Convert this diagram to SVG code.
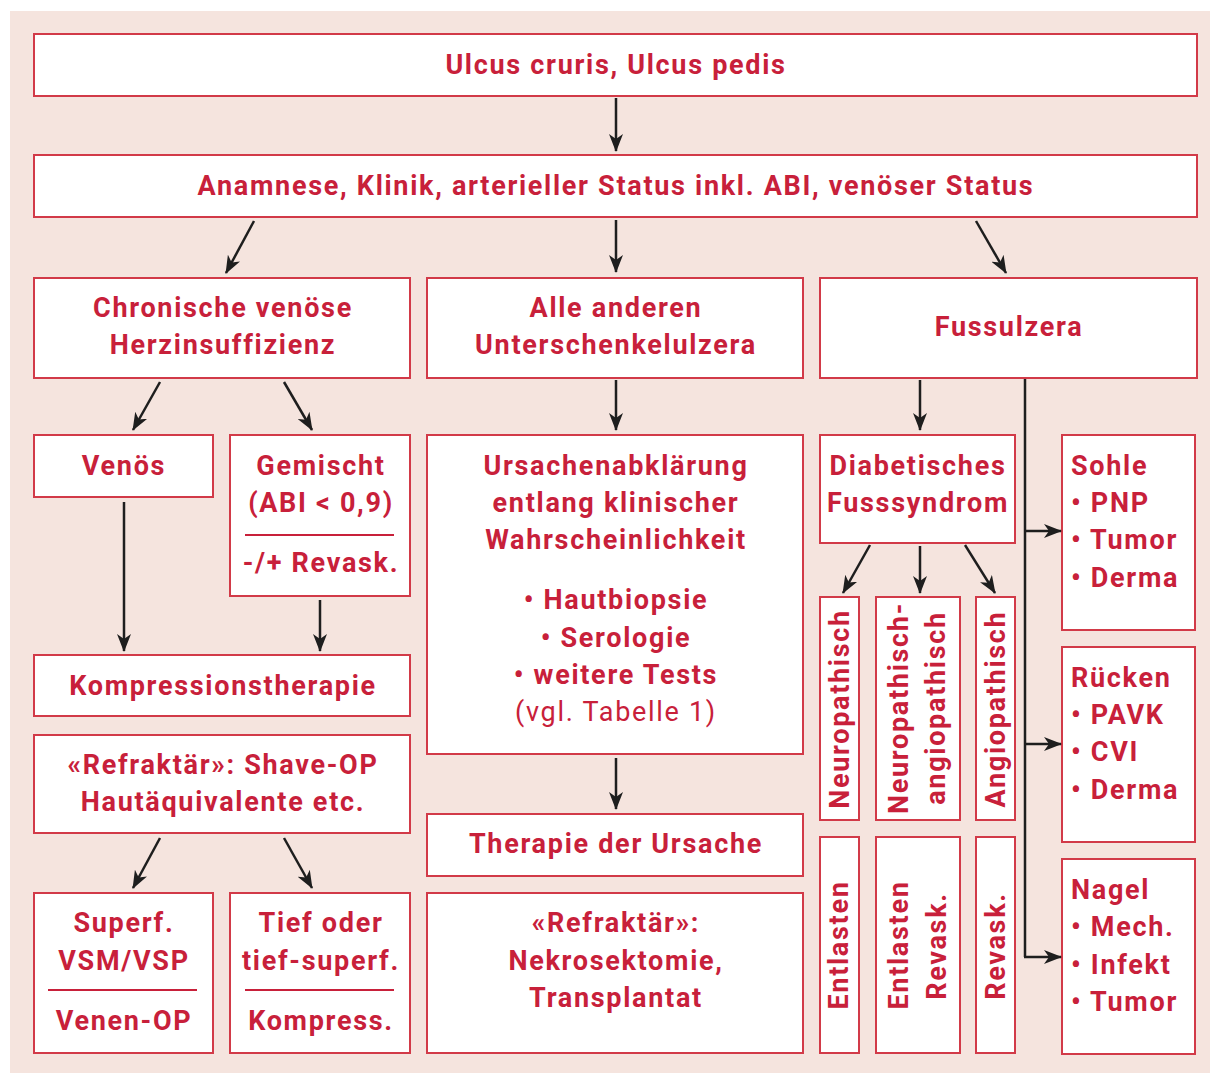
<svg xmlns="http://www.w3.org/2000/svg" width="1210" height="1073" viewBox="0 0 1210 1073">
<defs>
<marker id="ah" markerWidth="18" markerHeight="14" refX="17" refY="7" orient="auto" markerUnits="userSpaceOnUse">
<path d="M0,0 L18,7 L0,14 L5,7 z" fill="#1e1e1e"/>
</marker>
</defs>
<style>
.box{fill:#fff;stroke:#d23a48;stroke-width:2}
.t{font-family:Roboto,"Noto Sans",sans-serif;font-weight:700;font-size:27px;fill:#c8203a;text-anchor:middle;letter-spacing:1.7px}
.l{text-anchor:start}
.r{font-weight:400}
.sep{stroke:#c8203a;stroke-width:2}
.c{stroke:#1e1e1e;stroke-width:2.5;fill:none;marker-end:url(#ah)}
.c0{stroke:#1e1e1e;stroke-width:2.5;fill:none}
</style>
<rect x="10" y="11" width="1200" height="1062" fill="#f5e4de"/>

<g id="n-ulcus"><rect class="box" x="34" y="34" width="1163" height="62"/><text class="t" x="616" y="74">Ulcus cruris, Ulcus pedis</text></g>
<g id="n-anamnese"><rect class="box" x="34" y="155" width="1163" height="62"/><text class="t" x="616" y="195">Anamnese, Klinik, arterieller Status inkl. ABI, venöser Status</text></g>

<g id="n-cvi"><rect class="box" x="34" y="278" width="376" height="100"/><text class="t" x="223" y="317">Chronische venöse</text><text class="t" x="223" y="354">Herzinsuffizienz</text></g>
<g id="n-andere"><rect class="box" x="427" y="278" width="376" height="100"/><text class="t" x="616" y="317">Alle anderen</text><text class="t" x="616" y="354">Unterschenkelulzera</text></g>
<g id="n-fuss"><rect class="box" x="820" y="278" width="377" height="100"/><text class="t" x="1009" y="336">Fussulzera</text></g>

<g id="n-venoes"><rect class="box" x="34" y="435" width="179" height="62"/><text class="t" x="124" y="475">Venös</text></g>
<g id="n-gemischt"><rect class="box" x="230" y="435" width="180" height="161"/><text class="t" x="321" y="475">Gemischt</text><text class="t" x="321" y="512">(ABI &lt; 0,9)</text><line class="sep" x1="245" y1="535" x2="394" y2="535"/><text class="t" x="321" y="572">-/+ Revask.</text></g>
<g id="n-kompression"><rect class="box" x="34" y="655" width="376" height="61"/><text class="t" x="223" y="695">Kompressionstherapie</text></g>
<g id="n-refr1"><rect class="box" x="34" y="735" width="376" height="98"/><text class="t" x="223" y="774">«Refraktär»: Shave-OP</text><text class="t" x="223" y="811">Hautäquivalente etc.</text></g>
<g id="n-superf"><rect class="box" x="34" y="893" width="179" height="160"/><text class="t" x="124" y="932">Superf.</text><text class="t" x="124" y="970">VSM/VSP</text><line class="sep" x1="48" y1="990" x2="197" y2="990"/><text class="t" x="124" y="1030">Venen-OP</text></g>
<g id="n-tief"><rect class="box" x="230" y="893" width="180" height="160"/><text class="t" x="321" y="932">Tief oder</text><text class="t" x="321" y="970">tief-superf.</text><line class="sep" x1="245" y1="990" x2="394" y2="990"/><text class="t" x="321" y="1030">Kompress.</text></g>

<g id="n-ursachen"><rect class="box" x="427" y="435" width="376" height="319"/>
<text class="t" x="616" y="475">Ursachenabklärung</text><text class="t" x="616" y="512">entlang klinischer</text><text class="t" x="616" y="549">Wahrscheinlichkeit</text>
<text class="t" x="616" y="609">• Hautbiopsie</text><text class="t" x="616" y="647">• Serologie</text><text class="t" x="616" y="684">• weitere Tests</text><text class="t r" x="616" y="721">(vgl. Tabelle 1)</text></g>
<g id="n-therapie"><rect class="box" x="427" y="814" width="376" height="62"/><text class="t" x="616" y="853">Therapie der Ursache</text></g>
<g id="n-refr2"><rect class="box" x="427" y="893" width="376" height="160"/><text class="t" x="616" y="932">«Refraktär»:</text><text class="t" x="616" y="970">Nekrosektomie,</text><text class="t" x="616" y="1007">Transplantat</text></g>

<g id="n-dfs"><rect class="box" x="820" y="435" width="195" height="108"/><text class="t" x="918" y="475">Diabetisches</text><text class="t" x="918" y="512">Fusssyndrom</text></g>
<g id="n-neuro"><rect class="box" x="820" y="597" width="39" height="223"/><text class="t" transform="translate(849,709) rotate(-90)">Neuropathisch</text></g>
<g id="n-neuroangio"><rect class="box" x="876" y="597" width="84" height="223"/><text class="t" transform="translate(908,708) rotate(-90)">Neuropathisch-</text><text class="t" transform="translate(945,708) rotate(-90)">angiopathisch</text></g>
<g id="n-angio"><rect class="box" x="976" y="597" width="39" height="223"/><text class="t" transform="translate(1005,709) rotate(-90)">Angiopathisch</text></g>
<g id="n-entl1"><rect class="box" x="820" y="837" width="39" height="216"/><text class="t" transform="translate(848,945) rotate(-90)">Entlasten</text></g>
<g id="n-entl2"><rect class="box" x="876" y="837" width="84" height="216"/><text class="t" transform="translate(908,945) rotate(-90)">Entlasten</text><text class="t" transform="translate(946,946) rotate(-90)">Revask.</text></g>
<g id="n-revask"><rect class="box" x="976" y="837" width="39" height="216"/><text class="t" transform="translate(1005,946) rotate(-90)">Revask.</text></g>

<g id="n-sohle"><rect class="box" x="1062" y="435" width="133" height="195"/><text class="t l" x="1071" y="475">Sohle</text><text class="t l" x="1071" y="512">• PNP</text><text class="t l" x="1071" y="549">• Tumor</text><text class="t l" x="1071" y="587">• Derma</text></g>
<g id="n-ruecken"><rect class="box" x="1062" y="647" width="133" height="195"/><text class="t l" x="1071" y="687">Rücken</text><text class="t l" x="1071" y="724">• PAVK</text><text class="t l" x="1071" y="761">• CVI</text><text class="t l" x="1071" y="799">• Derma</text></g>
<g id="n-nagel"><rect class="box" x="1062" y="859" width="133" height="195"/><text class="t l" x="1071" y="899">Nagel</text><text class="t l" x="1071" y="936">• Mech.</text><text class="t l" x="1071" y="974">• Infekt</text><text class="t l" x="1071" y="1011">• Tumor</text></g>

<g id="connectors">
<line class="c" x1="616" y1="98" x2="616" y2="151"/>
<line class="c" x1="254" y1="221" x2="226" y2="273"/>
<line class="c" x1="616" y1="220" x2="616" y2="272"/>
<line class="c" x1="976" y1="221" x2="1006" y2="273"/>
<line class="c" x1="160" y1="382" x2="133" y2="430"/>
<line class="c" x1="284" y1="382" x2="312" y2="430"/>
<line class="c" x1="124" y1="502" x2="124" y2="651"/>
<line class="c" x1="320" y1="600" x2="320" y2="651"/>
<line class="c" x1="160" y1="838" x2="133" y2="888"/>
<line class="c" x1="284" y1="838" x2="312" y2="888"/>
<line class="c" x1="616" y1="380" x2="616" y2="430"/>
<line class="c" x1="616" y1="758" x2="616" y2="809"/>
<line class="c" x1="920" y1="380" x2="920" y2="430"/>
<line class="c" x1="870" y1="545" x2="843" y2="593"/>
<line class="c" x1="920" y1="546" x2="920" y2="593"/>
<line class="c" x1="965" y1="545" x2="995" y2="593"/>
<path class="c0" d="M1025,379 L1025,957"/>
<line class="c" x1="1025" y1="531" x2="1061" y2="531"/>
<line class="c" x1="1025" y1="744" x2="1061" y2="744"/>
<line class="c" x1="1024" y1="957" x2="1061" y2="957"/>
</g>
</svg>
